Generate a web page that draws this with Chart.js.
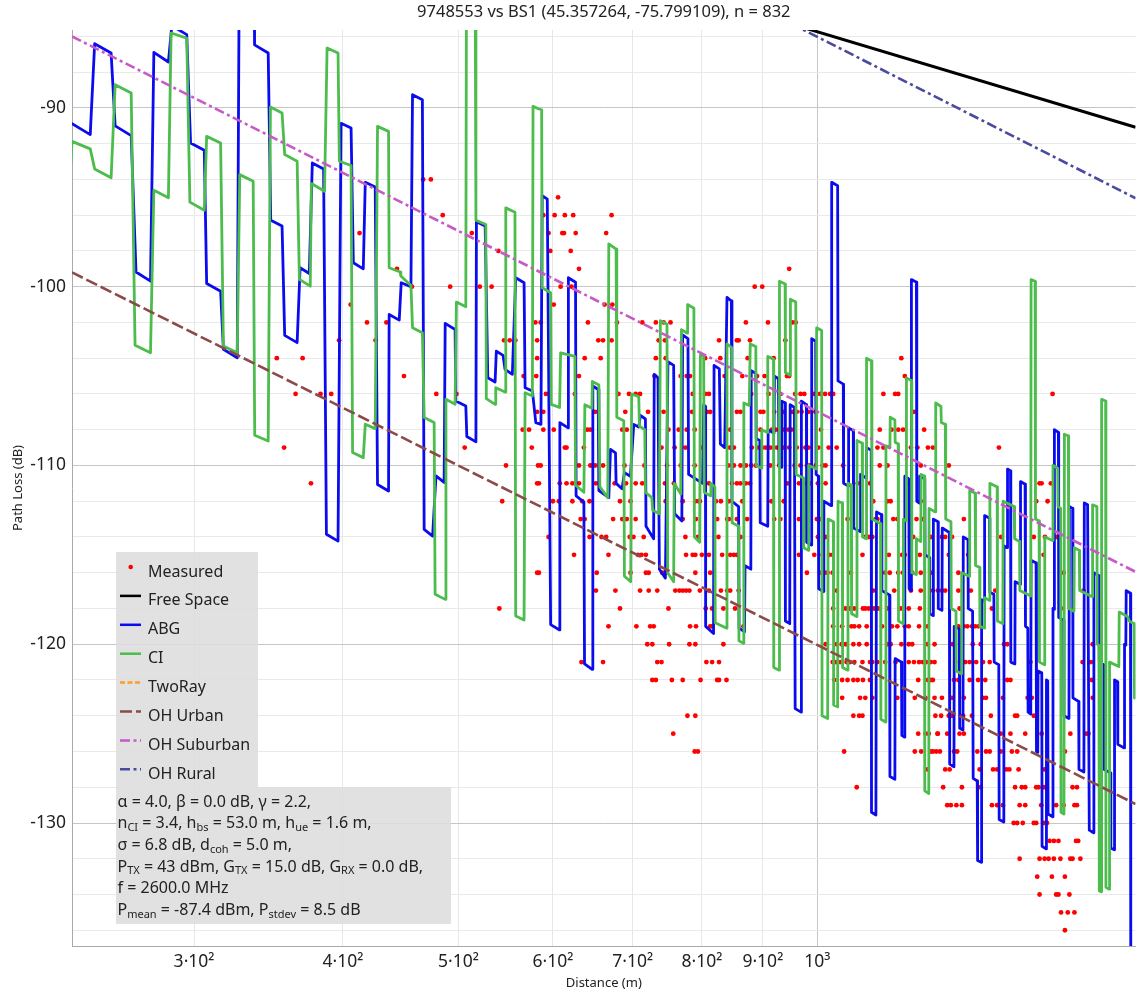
<!DOCTYPE html>
<html>
<head>
<meta charset="utf-8">
<title>Path loss vs distance</title>
<script src="https://cdn.jsdelivr.net/npm/chart.js@4.4.1/dist/chart.umd.min.js"></script>
<style>
  html, body { margin: 0; padding: 0; background: #ffffff; }
  #frame { position: relative; width: 1138px; height: 992px; }
  canvas { display: block; }
</style>
</head>
<body>
<div id="frame"><canvas id="pathLoss" width="1138" height="992"></canvas></div>
<script>
// ---- chart text and axes ----
const chartTitle = '9748553 vs BS1 (45.357264, -75.799109), n = 832';
const distanceRange = [237, 1849];          // metres
const lossRange = [-136.88, -85.64];        // dB
const distanceTicks = [300, 400, 500, 600, 700, 800, 900, 1000];
const distanceTickLabels = ['3·10²', '4·10²', '5·10²', '6·10²', '7·10²', '8·10²', '9·10²', '10³'];
const lossTicks = [-136, -134, -132, -130, -128, -126, -124, -122, -120, -118, -116, -114, -112,
                   -110, -108, -106, -104, -102, -100, -98, -96, -94, -92, -90, -88, -86];
const lossTickLabels = { '-90': '-90', '-100': '-100', '-110': '-110', '-120': '-120', '-130': '-130' };

// ---- measured samples: path loss level (dB) and the distances (m) measured at it ----
const measuredLevels = [-94, -95, -96, -97, -98, -99, -100, -101, -102, -103, -104, -105, -106, -107,
  -108, -109, -110, -111, -112, -113, -114, -115, -116, -117, -118, -119, -120, -121, -122, -123,
  -124, -125, -126, -127, -128, -129, -130, -131, -132, -133, -134, -135, -136];
const measuredDistances = [
  [467, 474],
  [606],
  [485, 589, 602, 614, 624, 672],
  [413, 513, 595, 611, 613, 627, 665],
  [540, 597, 621],
  [444, 631, 947],
  [457, 492, 521, 533, 609, 622, 886, 899],
  [406, 601, 663, 673],
  [419, 435, 580, 586, 642, 679, 713, 732, 743, 753, 871, 909, 953, 959],
  [397, 426, 546, 552, 558, 582, 655, 661, 672, 736, 745, 827, 856, 859, 878, 940],
  [352, 370, 582, 638, 658, 732, 746, 805, 829, 874, 919, 1176],
  [450, 567, 581, 631, 730, 768, 777, 782, 836, 865, 890, 903, 943, 947, 1184],
  [365, 383, 391, 479, 498, 592, 626, 681, 695, 704, 710, 786, 805, 811, 880, 910, 931, 958, 968, 975,
   992, 1005, 1015, 1025, 1031, 1136, 1162, 1169, 1575],
  [582, 589, 651, 690, 721, 743, 785, 808, 813, 856, 862, 896, 901, 920, 937, 953, 961, 970, 983, 996, 1205],
  [566, 573, 589, 601, 641, 645, 686, 692, 750, 765, 777, 789, 845, 896, 916, 923, 931, 938, 946, 951,
   1007, 1128, 1154, 1169, 1180, 1229],
  [357, 506, 576, 614, 616, 637, 740, 759, 775, 800, 804, 844, 851, 881, 891, 899, 905, 913, 919, 925,
   937, 947, 961, 977, 983, 1002, 1022, 1038, 1123, 1136, 1198, 1213, 1238, 1250, 1420],
  [548, 583, 586, 631, 645, 648, 651, 661, 689, 716, 748, 768, 789, 842, 851, 862, 871, 880, 888, 913,
   929, 957, 968, 980, 986, 997, 1010, 1016, 1051, 1128, 1145, 1221, 1289],
  [376, 582, 584, 608, 616, 623, 631, 652, 676, 691, 704, 713, 745, 758, 811, 848, 856, 862, 871, 878,
   944, 965, 975, 986, 1001, 1016, 1081, 1107, 1192, 1536, 1542, 1570],
  [544, 600, 607, 623, 635, 644, 683, 697, 746, 771, 790, 795, 797, 822, 830, 843, 865, 915, 937, 1114,
   1145, 1152, 1221, 1526, 1560],
  [633, 638, 674, 686, 692, 704, 771, 791, 824, 840, 843, 856, 873, 920, 931, 965, 999, 1005, 1060, 1119,
   1123, 1158, 1167, 1211, 1226, 1327],
  [595, 644, 659, 665, 696, 701, 715, 775, 794, 826, 862, 1001, 1016, 1097, 1105, 1112, 1196, 1203, 1245,
   1272, 1280, 1297, 1426, 1519, 1552, 1586, 1593],
  [625, 668, 707, 712, 718, 776, 786, 790, 800, 811, 832, 845, 851, 856, 965, 994, 1010, 1023, 1030, 1091,
   1148, 1178, 1184, 1219, 1289, 1338, 1548],
  [582, 584, 653, 697, 718, 722, 741, 745, 790, 813, 980, 1005, 1014, 1020, 1030, 1067, 1140, 1150, 1169,
   1180, 1201, 1221, 1245, 1313, 1609],
  [652, 677, 710, 722, 734, 760, 766, 771, 776, 781, 797, 811, 830, 840, 845, 859, 1038, 1114, 1160, 1198,
   1221, 1250, 1262, 1272, 1280, 1313, 1345, 1410, 1672],
  [541, 683, 750, 806, 816, 834, 853, 1031, 1056, 1065, 1074, 1092, 1097, 1104, 1116, 1125, 1145, 1175,
   1193, 1219, 1316, 1401, 1601],
  [668, 705, 724, 729, 782, 791, 813, 816, 867, 1031, 1049, 1068, 1074, 1084, 1100, 1133, 1155, 1167, 1184,
   1193, 1217, 1237, 1313, 1327, 1336, 1348, 1356, 1365],
  [720, 727, 751, 781, 790, 834, 1016, 1038, 1048, 1056, 1072, 1084, 1100, 1145, 1152, 1176, 1193, 1201,
   1237, 1254, 1299, 1350, 1371, 1434, 1443, 1702],
  [634, 661, 734, 740, 807, 816, 827, 1030, 1036, 1045, 1058, 1065, 1074, 1091, 1107, 1112, 1123, 1140,
   1163, 1193, 1205, 1217, 1226, 1234, 1245, 1254, 1305, 1322, 1331, 1342, 1359, 1377, 1395, 1509, 1669, 1696],
  [727, 732, 755, 771, 798, 824, 827, 839, 1033, 1049, 1060, 1072, 1081, 1092, 1107, 1215, 1238, 1245, 1250,
   1302, 1313, 1342, 1364, 1383, 1443, 1452, 1699],
  [1049, 1086, 1097, 1112, 1167, 1207, 1232, 1254, 1272, 1297, 1327, 1377, 1385, 1431, 1501, 1513, 1702],
  [778, 790, 1072, 1084, 1091, 1256, 1270, 1289, 1297, 1325, 1348, 1398, 1465, 1471, 1519],
  [757, 1215, 1232, 1240, 1261, 1262, 1285, 1316, 1327, 1425, 1452, 1494, 1542, 1630, 1680, 1688],
  [789, 794, 1053, 1207, 1222, 1245, 1250, 1258, 1267, 1302, 1310, 1362, 1385, 1395, 1425, 1456, 1471, 1613],
  [1237, 1280, 1291, 1368, 1404, 1415, 1440, 1449, 1475, 1551],
  [1079, 1275, 1322, 1371, 1465, 1484, 1494, 1526, 1533, 1549, 1637, 1651],
  [1285, 1294, 1308, 1322, 1401, 1415, 1431, 1478, 1494, 1541, 1586, 1609, 1643, 1651],
  [1461, 1471, 1487, 1519, 1526, 1548, 1558],
  [1566, 1579, 1593, 1648, 1655],
  [1478, 1536, 1551, 1563, 1579, 1599, 1630, 1637, 1662],
  [1529, 1573, 1613],
  [1536, 1586, 1593, 1627],
  [1601, 1622, 1643],
  [1613]
];

// ---- model curves: [distance m, path loss dB] ----
const freeSpaceLoss = [[800, -83.8], [1849, -91.08]];
const ohUrbanLoss = [[237, -99.2], [1849, -128.94]];
const ohSuburbanLoss = [[237, -86.0], [1849, -115.95]];
const ohRuralLoss = [[800, -82.75], [1849, -95.05]];
const twoRayLoss = [];

const abgLoss = [
  [236.5, -90.85], [237.0, -90.88], [245.5, -91.49], [247.6, -86.41], [255.6, -86.93], [257.6, -91.0],
  [265.7, -91.55], [268.2, -99.18], [275.8, -99.69], [277.6, -86.89], [285.5, -87.43], [287.4, -85.4],
  [295.8, -85.9], [298.0, -91.96], [306.0, -92.37], [307.4, -99.82], [315.8, -100.25], [317.5, -103.5],
  [326.1, -103.97], [327.3, -83.5], [337.0, -84.0], [337.2, -86.47], [346.2, -86.93], [347.9, -96.28],
  [355.6, -96.61], [357.4, -102.72], [366.1, -103.13], [368.2, -98.94], [374.8, -99.26], [377.0, -93.08],
  [385.3, -93.41], [387.4, -113.85], [396.2, -114.23], [398.5, -90.86], [406.3, -91.12], [408.1, -98.66],
  [416.0, -99.0], [417.6, -94.16], [425.7, -94.42], [427.6, -111.06], [436.8, -111.43], [437.3, -101.55],
  [445.9, -101.87], [447.6, -99.78], [456.1, -100.0], [457.5, -89.26], [466.3, -89.54], [467.9, -113.58],
  [475.6, -113.95], [478.7, -110.58], [486.3, -110.95], [487.3, -102.05], [496.7, -102.39], [497.4, -106.39],
  [507.1, -106.67], [508.1, -108.38], [517.1, -108.68], [517.6, -96.37], [526.4, -96.61], [529.1, -105.09],
  [536.6, -105.33], [537.9, -103.6], [544.9, -103.84], [547.0, -104.62], [554.8, -104.9], [558.4, -99.5],
  [567.5, -99.78], [568.6, -105.65], [576.7, -105.83], [580.5, -107.6], [586.3, -107.7],
  [587.7, -94.9], [593.5, -95.1], [597.4, -118.9], [607.8, -119.2], [608.1, -107.6], [617.9, -107.9],
  [618.2, -99.5], [626.8, -99.75], [627.5, -111.7], [637.0, -112.05], [637.8, -121.1], [647.2, -121.4],
  [648.1, -105.55], [654.8, -105.75], [655.7, -111.4], [668.4, -111.8], [670.6, -109.1], [677.1, -109.3],
  [677.9, -111.0], [685.7, -111.3], [688.9, -110.4], [696.9, -110.6], [701.4, -107.7], [708.2, -107.85],
  [710.5, -107.2], [717.4, -107.4], [718.2, -113.4], [728.9, -114.1], [729.7, -104.9], [735.0, -105.1],
  [737.0, -115.8], [745.6, -116.3], [749.3, -104.2], [757.6, -104.4], [759.1, -112.7], [769.7, -113.1],
  [770.8, -102.7], [778.8, -102.9], [779.8, -110.5], [801.2, -111.0], [802.8, -106.6], [805.5, -106.7],
  [805.9, -119.0], [818.3, -119.4], [819.1, -104.4], [827.5, -104.6], [829.1, -108.8], [836.1, -109.0],
  [839.8, -100.6], [846.9, -100.8], [847.9, -112.0], [858.8, -112.3],
  [859.6, -119.1], [868.7, -119.3], [869.6, -115.6], [879.4, -115.8], [880.1, -104.7], [887.9, -104.85],
  [888.6, -108.5], [894.8, -108.6], [895.5, -113.2], [908.6, -113.4], [909.3, -108.0], [919.6, -108.2],
  [920.5, -105.0], [927.6, -105.15], [928.5, -110.0], [933.0, -110.1], [933.5, -106.4], [939.6, -106.5],
  [940.1, -118.7], [948.0, -118.85], [948.8, -106.6], [956.6, -106.75], [958.0, -123.6], [969.1, -123.8],
  [969.6, -106.4], [979.0, -106.6], [979.5, -114.3], [988.5, -114.45], [989.1, -102.9], [996.7, -103.05],
  [997.5, -110.5], [1001.9, -110.6], [1002.5, -116.9], [1011.6, -117.05], [1012.6, -112.0], [1027.4, -112.25],
  [1028.0, -94.16], [1039.9, -94.35], [1040.7, -105.27], [1051.3, -105.45], [1051.9, -111.0], [1061.6, -111.15],
  [1062.2, -107.9], [1071.8, -108.05], [1072.4, -113.5], [1086.4, -113.7], [1087.0, -110.5], [1099.0, -110.7],
  [1099.6, -109.0], [1109.6, -109.15], [1110.2, -129.4], [1119.7, -129.55], [1121.0, -112.6], [1131.8, -112.75],
  [1132.7, -117.0], [1149.5, -117.25], [1150.4, -127.4], [1161.5, -127.55], [1162.1, -120.8], [1176.3, -121.0],
  [1177.2, -125.1], [1183.1, -125.2], [1184.0, -110.6], [1193.2, -110.75], [1193.9, -116.9], [1198.5, -117.0],
  [1199.2, -99.6], [1210.8, -99.75], [1211.7, -112.0], [1217.8, -112.1], [1218.7, -110.6], [1230.5, -110.75],
  [1231.2, -115.0], [1241.5, -115.15], [1242.5, -118.3], [1250.4, -118.4], [1251.1, -113.0], [1262.4, -113.15],
  [1263.1, -118.0], [1272.1, -118.1], [1272.8, -113.5], [1290.2, -113.75], [1291.2, -126.7], [1301.9, -126.85],
  [1302.6, -119.0], [1315.3, -119.15], [1316.3, -124.7], [1324.8, -124.8], [1325.5, -114.0], [1337.6, -114.15],
  [1338.4, -118.0], [1349.6, -118.15], [1351.1, -127.5], [1361.7, -127.65], [1362.7, -132.1], [1372.2, -132.2],
  [1373.3, -117.5], [1380.2, -117.6], [1381.3, -112.8], [1394.6, -112.95], [1395.4, -117.1], [1406.2, -117.2],
  [1407.0, -121.0], [1419.6, -121.15], [1420.7, -129.8], [1433.5, -129.95], [1434.3, -114.5], [1442.7, -114.6],
  [1443.8, -110.2], [1452.2, -110.3], [1453.0, -121.0], [1464.4, -121.1], [1465.2, -116.5], [1479.4, -116.65],
  [1480.5, -110.9], [1493.6, -111.05], [1494.7, -119.0], [1501.4, -119.1], [1502.3, -123.8], [1510.1, -123.9],
  [1511.0, -115.3], [1525.7, -115.45], [1526.8, -126.0], [1530.6, -126.05], [1531.5, -121.5], [1542.5, -121.6],
  [1543.4, -131.3], [1555.3, -131.45], [1556.5, -122.0], [1560.4, -122.05], [1561.4, -129.5], [1575.4, -129.65],
  [1576.3, -118.0], [1579.4, -118.05], [1580.6, -108.0], [1592.9, -108.15], [1593.8, -118.5], [1609.2, -118.65],
  [1610.1, -124.0], [1625.7, -124.15], [1627.0, -112.3], [1637.3, -112.4], [1638.2, -123.0], [1656.4, -123.2],
  [1657.4, -127.0], [1673.3, -127.15], [1674.6, -112.1], [1685.3, -112.2], [1690.8, -130.4], [1704.9, -130.55],
  [1705.9, -116.0], [1722.5, -116.15], [1723.8, -121.0], [1738.2, -121.15], [1739.2, -127.0], [1761.7, -127.2],
  [1762.7, -131.4], [1774.3, -131.5], [1775.3, -122.0], [1785.5, -122.1], [1786.6, -125.6], [1808.8, -125.8],
  [1809.9, -120.0], [1814.4, -120.05], [1815.8, -117.0], [1830.8, -117.15], [1831.8, -139.0], [1848.8, -139.2]
];

const ciLoss = [
  [236.0, -94.2], [237.0, -91.87], [245.5, -92.29], [247.6, -93.41], [255.6, -93.91], [257.6, -88.70],
  [265.7, -89.17], [267.7, -103.28], [275.8, -103.69], [277.6, -94.6], [285.5, -95.03], [287.0, -85.81],
  [295.8, -86.09], [297.6, -95.27], [306.0, -95.72], [307.4, -91.59], [315.8, -91.96], [317.5, -103.32],
  [326.1, -103.69], [327.7, -93.73], [336.3, -94.1], [337.3, -108.31], [346.2, -108.63], [347.7, -89.95],
  [355.6, -90.28], [357.4, -92.61], [366.1, -92.98], [367.7, -99.59], [375.5, -99.97], [376.3, -94.23],
  [386.0, -94.66], [387.9, -86.65], [396.2, -86.93], [397.2, -92.98], [406.3, -93.22], [407.5, -109.28],
  [416.0, -109.56], [417.6, -107.69], [425.7, -107.94], [427.6, -91.03], [436.8, -91.31], [437.3, -98.94],
  [446.7, -99.18], [447.3, -99.4], [456.1, -99.93], [457.5, -102.29], [466.3, -102.57], [467.9, -107.32],
  [477.0, -107.6], [477.9, -117.2], [487.3, -117.49], [488.0, -106.3], [496.7, -106.58], [498.0, -100.86],
  [507.1, -101.12], [507.7, -83.5], [516.4, -83.8], [517.1, -96.28], [527.1, -96.52], [527.6, -106.26],
  [536.6, -106.58], [537.3, -105.65], [547.0, -105.89], [547.8, -95.59], [557.6, -95.83], [558.4, -118.42],
  [567.5, -118.64], [568.6, -105.93], [576.7, -106.11], [577.4, -89.91], [584.0, -90.06], [587.1, -90.1],
  [587.7, -100.06], [597.4, -100.34], [598.1, -106.58], [607.8, -106.76], [609.0, -103.7], [626.0, -103.9],
  [626.8, -111.1], [637.0, -111.5], [638.2, -106.6], [646.9, -106.8], [647.5, -105.3], [655.7, -105.5],
  [657.0, -111.2], [667.1, -111.8], [668.4, -97.6], [677.9, -97.9], [678.8, -107.3], [688.0, -107.5],
  [688.9, -116.2], [697.3, -116.5], [698.6, -106.0], [708.2, -106.15], [709.2, -107.8], [716.5, -108.0],
  [717.4, -111.5], [726.3, -111.8], [727.5, -112.5], [737.0, -112.7], [738.4, -101.9], [747.9, -102.1],
  [748.9, -116.0], [757.6, -116.5], [758.4, -111.0], [768.1, -111.6], [769.1, -102.4], [777.8, -102.6],
  [778.3, -101.0], [787.8, -101.2], [788.6, -114.0], [796.6, -114.3], [797.7, -103.8], [802.8, -103.9],
  [803.6, -111.5], [813.5, -111.7], [814.0, -111.0], [820.4, -111.2], [820.9, -118.8], [839.3, -119.1],
  [839.8, -103.2], [847.4, -103.4], [848.2, -113.2], [858.8, -113.4],
  [859.4, -119.8], [867.1, -119.95], [867.6, -106.5], [876.7, -106.65], [878.4, -103.2], [887.9, -103.35],
  [888.6, -110.0], [897.7, -110.15], [898.2, -108.0], [908.1, -108.15], [908.6, -103.9], [918.7, -104.05],
  [919.2, -121.3], [928.8, -121.45], [929.4, -99.7], [939.6, -99.85], [940.1, -104.8], [948.8, -104.95],
  [949.3, -100.7], [959.1, -100.85], [959.9, -110.5], [973.3, -110.7], [973.9, -114.6], [982.8, -114.75],
  [983.4, -110.0], [998.1, -110.2], [998.6, -102.3], [1008.3, -102.45], [1009.1, -124.0], [1020.1, -124.15],
  [1020.9, -113.0], [1031.4, -113.15], [1031.9, -123.4], [1039.9, -123.5], [1040.7, -112.0], [1049.3, -112.1],
  [1049.9, -121.3], [1060.1, -121.45], [1060.9, -111.0], [1067.7, -111.1], [1068.3, -118.3], [1078.6, -118.45],
  [1079.5, -108.6], [1090.5, -108.75], [1091.1, -114.0], [1099.0, -114.1], [1099.6, -104.0], [1110.2, -104.15],
  [1111.1, -113.0], [1129.7, -113.25], [1130.5, -124.2], [1140.7, -124.35], [1141.6, -108.9], [1150.4, -109.0],
  [1151.1, -107.3], [1161.5, -107.45], [1162.1, -108.7], [1168.9, -108.8], [1169.6, -118.7], [1180.1, -118.85],
  [1180.8, -113.0], [1187.3, -113.1], [1187.7, -105.1], [1199.2, -105.25], [1200.1, -116.0], [1210.1, -116.1],
  [1210.8, -114.1], [1221.1, -114.25], [1221.8, -110.5], [1229.6, -110.6], [1230.5, -128.2], [1240.1, -128.35],
  [1240.8, -112.4], [1255.9, -112.6], [1256.8, -106.5], [1269.6, -106.7], [1270.4, -107.6], [1280.3, -107.7],
  [1281.3, -113.0], [1294.4, -113.15], [1295.1, -118.0], [1307.0, -118.15], [1307.8, -121.5], [1320.4, -121.65],
  [1321.4, -116.0], [1341.0, -116.2], [1342.0, -111.4], [1356.2, -111.55], [1357.3, -115.6], [1368.0, -115.7],
  [1368.8, -119.0], [1380.2, -119.1], [1381.3, -117.4], [1394.6, -117.55], [1395.4, -111.0], [1415.2, -111.2],
  [1416.0, -118.7], [1430.8, -118.85], [1431.6, -112.0], [1462.4, -112.3], [1463.6, -114.1], [1477.7, -114.25],
  [1478.5, -117.0], [1510.1, -117.3], [1511.0, -99.6], [1522.7, -99.7], [1523.9, -113.0], [1534.5, -113.1],
  [1535.7, -121.0], [1550.5, -121.15], [1551.4, -114.0], [1575.4, -114.2], [1576.3, -110.0], [1590.8, -110.15],
  [1591.7, -112.3], [1600.0, -112.4], [1601.0, -129.4], [1610.1, -129.5], [1611.4, -108.25], [1623.8, -108.35],
  [1624.8, -118.0], [1641.4, -118.15], [1642.6, -114.6], [1658.6, -114.75], [1659.6, -117.0], [1700.6, -117.35],
  [1701.6, -112.2], [1715.8, -112.3], [1717.1, -120.0], [1722.5, -120.05], [1723.8, -133.8], [1730.5, -133.85],
  [1731.5, -106.3], [1745.0, -106.4], [1746.0, -133.6], [1757.2, -133.7], [1758.3, -121.0], [1790.0, -121.25],
  [1791.4, -118.2], [1820.3, -118.45], [1826.3, -118.7], [1843.9, -118.85], [1845.0, -123.0], [1848.8, -123.05]
];

// ---- parameter panel: each line is a list of [text, isSubscript] runs ----
const paramLines = [
  [['α = 4.0, β = 0.0 dB, γ = 2.2,']],
  [['n'], ['CI', 1], [' = 3.4, h'], ['bs', 1], [' = 53.0 m, h'], ['ue', 1], [' = 1.6 m,']],
  [['σ = 6.8 dB, d'], ['coh', 1], [' = 5.0 m,']],
  [['P'], ['TX', 1], [' = 43 dBm, G'], ['TX', 1], [' = 15.0 dB, G'], ['RX', 1], [' = 0.0 dB,']],
  [['f = 2600.0 MHz']],
  [['P'], ['mean', 1], [' = -87.4 dBm, P'], ['stdev', 1], [' = 8.5 dB']]
];

// ---- build datasets ----
const FONT = "'Noto Sans', 'DejaVu Sans', sans-serif";
const toXY = pairs => pairs.map(([x, y]) => ({ x, y }));
const measuredPoints = [];
measuredLevels.forEach((level, i) => {
  measuredDistances[i].forEach(d => measuredPoints.push({ x: d, y: level }));
});

const lineStyle = (label, data, color, width, dash, order) => ({
  label, data: toXY(data), showLine: true, borderColor: color, backgroundColor: color,
  borderWidth: width, borderDash: dash, pointRadius: 0, pointHoverRadius: 0,
  tension: 0, borderJoinStyle: 'round', fill: false, order
});

const datasets = [
  { label: 'Measured', data: measuredPoints, showLine: false, pointRadius: 2.4, pointHoverRadius: 2.4,
    pointBackgroundColor: '#ff0000', pointBorderWidth: 0, borderColor: '#ff0000', backgroundColor: '#ff0000', order: 8 },
  lineStyle('Free Space', freeSpaceLoss, '#000000', 3, [], 7),
  lineStyle('ABG', abgLoss, '#0b0bef', 2.8, [], 6),
  lineStyle('CI', ciLoss, '#4cbd4c', 2.8, [], 5),
  lineStyle('TwoRay', twoRayLoss, '#ff9c2a', 2.5, [5, 2.5], 4),
  lineStyle('OH Urban', ohUrbanLoss, '#8c4a4a', 2.6, [12, 4], 3),
  lineStyle('OH Suburban', ohSuburbanLoss, '#c65ac6', 2.6, [10, 3.5, 3, 3.5], 2),
  lineStyle('OH Rural', ohRuralLoss, '#4a4a9e', 2.6, [10, 3.5, 3, 3.5], 1)
];

// ---- legend + parameter panel drawn inside the plot area ----
function drawRichLine(ctx, runs, x, y) {
  let cx = x;
  runs.forEach(([text, sub]) => {
    ctx.font = (sub ? '11px ' : '16px ') + FONT;
    ctx.fillText(text, cx, sub ? y + 4 : y);
    cx += ctx.measureText(text).width;
  });
}

const panelPlugin = {
  id: 'panelPlugin',
  afterDatasetsDraw(chart) {
    const { ctx, chartArea } = chart;
    const left = chartArea.left + 44;
    const top = chartArea.top + 522;
    ctx.save();
    ctx.fillStyle = 'rgba(221, 221, 221, 0.88)';
    ctx.fillRect(left, top, 142, 235);
    ctx.fillRect(left, top + 235, 335, 137);

    ctx.textBaseline = 'middle';
    ctx.textAlign = 'left';
    chart.data.datasets.forEach((ds, i) => {
      const rowY = top + 20 + i * 28.9;
      const markY = rowY - 5;
      if (ds.showLine === false) {
        ctx.fillStyle = ds.pointBackgroundColor;
        ctx.beginPath();
        ctx.arc(left + 14.7, markY, 2.3, 0, Math.PI * 2);
        ctx.fill();
      } else {
        ctx.strokeStyle = ds.borderColor;
        ctx.lineWidth = 2.5;
        ctx.setLineDash(ds.borderDash || []);
        ctx.beginPath();
        ctx.moveTo(left + 4, markY);
        ctx.lineTo(left + 25, markY);
        ctx.stroke();
        ctx.setLineDash([]);
      }
      ctx.fillStyle = '#222222';
      ctx.font = '16px ' + FONT;
      ctx.fillText(ds.label, left + 32, rowY);
    });

    ctx.fillStyle = '#222222';
    paramLines.forEach((runs, i) => {
      drawRichLine(ctx, runs, left + 1.5, top + 250 + i * 21.7);
    });
    ctx.restore();
  }
};

Chart.defaults.font.family = FONT;
Chart.defaults.color = '#222222';

new Chart(document.getElementById('pathLoss'), {
  type: 'scatter',
  data: { datasets },
  options: {
    responsive: false,
    animation: false,
    devicePixelRatio: 1,
    layout: { padding: 0 },
    events: [],
    plugins: {
      legend: { display: false },
      tooltip: { enabled: false },
      title: {
        display: true, fullSize: false, text: chartTitle, color: '#222222',
        font: { size: 16.5, weight: 'normal', family: FONT, lineHeight: 1.2 },
        padding: { top: 2, bottom: 8.2 }
      }
    },
    scales: {
      x: {
        type: 'logarithmic',
        min: distanceRange[0], max: distanceRange[1],
        afterBuildTicks: axis => { axis.ticks = distanceTicks.map(v => ({ value: v })); },
        afterFit: axis => { axis.height = 46; },
        ticks: {
          autoSkip: false, maxRotation: 0, padding: 6, color: '#222222',
          font: { size: 17.5, family: FONT },
          callback: (value, index) => distanceTickLabels[index]
        },
        grid: {
          drawTicks: false,
          color: c => (c.tick && c.tick.value === 1000) ? '#c6c6c6' : '#e7e7e7'
        },
        border: { color: '#aaaaaa' },
        title: { display: true, text: 'Distance (m)', color: '#222222', font: { size: 13, family: FONT }, padding: { top: 0, bottom: 1 } }
      },
      y: {
        min: lossRange[0], max: lossRange[1],
        afterBuildTicks: axis => { axis.ticks = lossTicks.map(v => ({ value: v })); },
        afterFit: axis => { axis.width = 72; },
        ticks: {
          autoSkip: false, padding: 6, color: '#222222',
          font: { size: 17.5, family: FONT },
          callback: value => lossTickLabels[String(value)] || ''
        },
        grid: {
          drawTicks: false,
          color: c => (c.tick && c.tick.value % 10 === 0) ? '#c6c6c6' : '#e9e9e9'
        },
        border: { color: '#aaaaaa' },
        title: { display: true, text: 'Path Loss (dB)', color: '#222222', font: { size: 13, family: FONT }, padding: { top: 10, bottom: 0 } }
      }
    }
  },
  plugins: [panelPlugin]
});
</script>
</body>
</html>
